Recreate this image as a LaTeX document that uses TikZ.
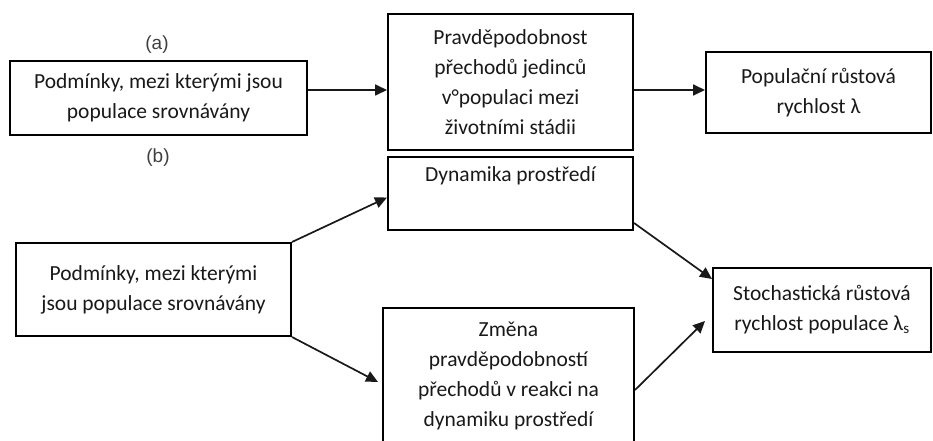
\documentclass[tikz,border=0pt]{standalone}
\usepackage{fontspec}
\setmainfont{Carlito}
\newfontfamily\labfont{Liberation Sans}
\usetikzlibrary{arrows.meta}
\begin{document}
\begin{tikzpicture}[x=1pt,y=-1pt,
  box/.style={draw=black,line width=2pt,inner sep=0pt,align=center,
    text=black!90,font=\fontsize{21.5}{30}\selectfont},
  lab/.style={inner sep=0pt,text=black!75,font=\labfont\fontsize{19}{22}\selectfont},
  conn/.style={draw=black!90,line width=1.7pt,-{Triangle[length=12pt,width=11pt]}}]
\clip (0,0) rectangle (933,441);
\fill[white] (0,0) rectangle (933,441);
% (a)
\node[box,minimum width=297pt,minimum height=74pt] (A1) at (158.5,98)
  {Podmínky, mezi kterými jsou\\populace srovnávány};
\node[box,minimum width=245pt,minimum height=136pt] (A2) at (510.5,82)
  {Pravděpodobnost\\přechodů jedinců\\v°populaci mezi\\životními stádii};
\node[box,minimum width=225pt,minimum height=81pt] (A3) at (818.5,92.5)
  {Populační růstová\\rychlost λ};
\node[lab] (la) at (157,45) {(a)};
\node[lab] (lb) at (158,158) {(b)};
% (b)
\node[box,minimum width=245pt,minimum height=73pt] (Dyn) at (510.5,193.5)
  {Dynamika prostředí\\\strut};
\node[box,minimum width=275pt,minimum height=93pt] (B1) at (153.5,289.5)
  {Podmínky, mezi kterými\\jsou populace srovnávány};
\node[box,minimum width=251pt,minimum height=136pt] (Zm) at (508.5,376)
  {Změna\\pravděpodobností\\přechodů v reakci na\\dynamiku prostředí};
\node[box,minimum width=218pt,minimum height=84pt] (St) at (822,310)
  {Stochastická růstová\\rychlost populace λ\textsubscript{s}};
% connectors
\coordinate (ya) at (0,90);
\draw[conn] (A1.east |- ya) -- (A2.west |- ya);
\draw[conn] (A2.east |- ya) -- (A3.west |- ya);
\draw[conn] (B1.north east) -- ([yshift=-4pt]Dyn.west);
\coordinate (yz) at (0,382);
\draw[conn] (B1.south east) -- ([xshift=-4pt]Zm.west |- yz);
\draw[conn] ([yshift=8pt]Dyn.south east) -- ([yshift=-12pt]St.north west);
\coordinate (ys) at (0,321);
\coordinate (yzs) at (0,390);
\draw[conn] (Zm.east |- yzs) -- ([xshift=-7pt]St.west |- ys);
\end{tikzpicture}
\end{document}
